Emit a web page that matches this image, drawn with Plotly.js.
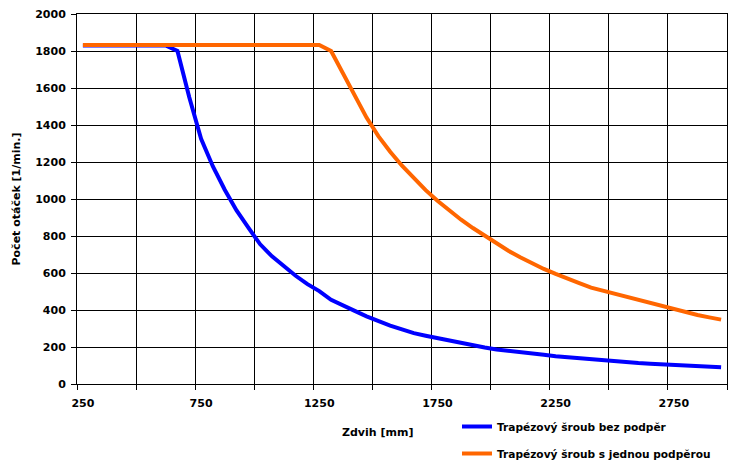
<!DOCTYPE html>
<html><head><meta charset="utf-8">
<script src="https://cdn.plot.ly/plotly-3.0.1.min.js"></script>
<style>html,body{margin:0;padding:0;background:#fff}#c{width:732px;height:467px}</style>
</head><body><div id="c"></div>
<script>
const zdvih = [];
for (let v = 250; v <= 2950; v += 50) zdvih.push(v);
const bezPodper = [1830,1830,1830,1830,1830,1830,1830,1830,1800,1550,1325,1176,1050,938,845,755,690,635,585,540,502,455,422,395,366,340,316,295,275,261,248,231,220,208,197,186,180,174,165,158,150,144,138,132,126,121,116,113,110,106,103,100,96,92,90];
const sJednouPodperou = [1833,1833,1833,1833,1833,1833,1833,1833,1833,1833,1833,1833,1833,1833,1833,1833,1833,1833,1833,1833,1833,1800,1680,1550,1440,1340,1255,1180,1110,1048,990,936,888,843,800,760,720,685,652,622,595,568,545,521,504,487,470,453,438,420,402,386,373,360,348];
const xLabels = [250,750,1250,1750,2250,2750];
const names = ["Trapézový šroub bez podpěr","Trapézový šroub s jednou podpěrou"];
const FONT = "DejaVu Sans, Verdana, sans-serif";
const FS = 11;
const F = {family:FONT, size:FS, color:'#000', weight:'bold'};
const xr = [225, 2975];
const traces = [
  {x: zdvih, y: bezPodper, type:'scatter', mode:'lines', name: names[0], legendgroup:'a',
   line:{color:'#0000FF', width:4}},
  {x: zdvih, y: sJednouPodperou, type:'scatter', mode:'lines', name: names[1], legendgroup:'b',
   line:{color:'#FF6600', width:4}}
];
const layout = {
  width:732, height:467,
  margin:{l:77, r:5, t:14, b:83, autoexpand:false},
  paper_bgcolor:'#fff', plot_bgcolor:'#fff',
  font:F,
  showlegend:true,
  legend:{xref:'container', yref:'container', x:457/732, xanchor:'left', y:1-412/467, yanchor:'top',
          traceorder:'grouped', tracegroupgap:8, font:{family:FONT, size:10.6, color:'#000', weight:'bold'}, bgcolor:'rgba(0,0,0,0)'},
  xaxis:{range:xr, tick0:225, dtick:250, showticklabels:false, ticks:'outside', ticklen:5, tickcolor:'#000',
         showgrid:true, gridcolor:'#000', gridwidth:1, showline:true, linecolor:'#000', linewidth:1, mirror:true, zeroline:false},
  xaxis2:{range:xr, overlaying:'x', anchor:'y', side:'bottom', tickmode:'array', tickvals:xLabels, ticktext:xLabels.map(String),
          ticks:'', showgrid:false, zeroline:false, showline:false, ticklabelstandoff:11, tickfont:F},
  yaxis:{range:[0,2000], dtick:200, ticks:'outside', ticklen:5, tickcolor:'#000',
         showgrid:true, gridcolor:'#000', gridwidth:1, showline:true, linecolor:'#000', linewidth:1, mirror:true, zeroline:false,
         tickfont:F, ticklabelstandoff:3,
         title:{text:'Počet otáček [1/min.]', standoff:12, font:F}},
  annotations:[{text:'Zdvih [mm]', xref:'paper', yref:'paper', x:0.4626, y:-0.1324, xanchor:'center', yanchor:'middle',
                showarrow:false, font:F}]
};
traces.push({x:[xr[0]], y:[null], xaxis:'x2', type:'scatter', mode:'lines', showlegend:false, hoverinfo:'skip'});
Plotly.newPlot('c', traces, layout, {staticPlot:true});
</script></body></html>
